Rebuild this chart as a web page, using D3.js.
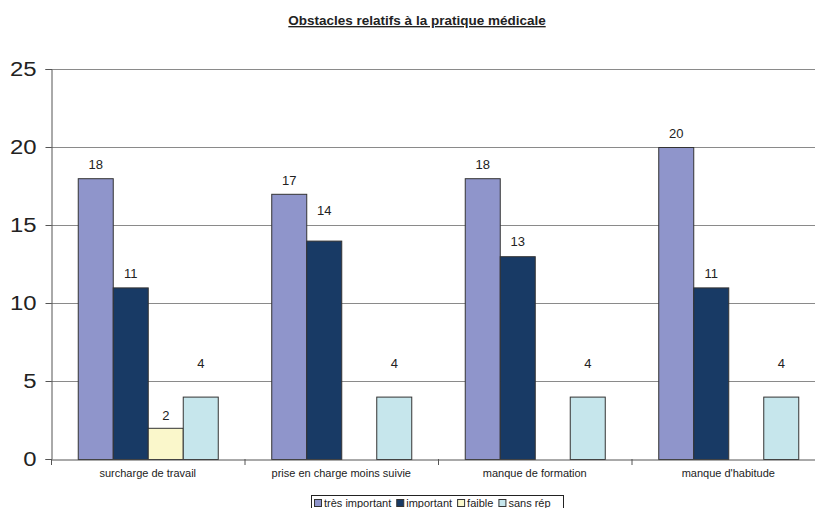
<!DOCTYPE html>
<html>
<head>
<meta charset="utf-8">
<script src="https://cdn.jsdelivr.net/npm/d3@7/dist/d3.min.js"></script>
<style>
  html, body { margin: 0; padding: 0; background: #fff; overflow: hidden; }
  svg { display: block; font-family: "Liberation Sans", Arial, sans-serif; }
</style>
</head>
<body>
<svg id="chart" width="815" height="508"></svg>
<script>
// Data
const categories = ["surcharge de travail", "prise en charge moins suivie", "manque de formation", "manque d'habitude"];
const seriesNames = ["très important", "important", "faible", "sans rép"];
const tresImportant = [18, 17, 18, 20];
const important = [11, 14, 13, 11];
const faible = [2, 0, 0, 0];
const sansRep = [4, 4, 4, 4];
const yTicks = [0, 5, 10, 15, 20, 25];

// Styling
const seriesColors = ["#8f95cb", "#183a65", "#faf7cb", "#c6e6ec"];
// distance (px) between a bar's top and its value label baseline, per series / category
const labelGap = [
  [9, 9, 9, 9],
  [9, 26, 10, 9],
  [8, 8, 8, 8],
  [29, 29, 29, 29]
];

const seriesValues = [tresImportant, important, faible, sansRep];

const svg = d3.select("#chart");
const plotLeft = 51, plotRight = 825, plotTop = 69, plotBottom = 459;

const x = d3.scaleBand().domain(categories).range([plotLeft, plotRight]).paddingInner(0).paddingOuter(0);
const xInner = d3.scaleBand().domain(seriesNames).range([0, x.bandwidth()]).paddingInner(0).paddingOuter(0.764);
const y = d3.scaleLinear().domain([0, 25]).range([plotBottom, plotTop]);

// Title
svg.append("text")
  .attr("x", 417).attr("y", 25)
  .attr("text-anchor", "middle")
  .attr("font-size", 13.5).attr("font-weight", "bold")
  .attr("fill", "#222")
  .attr("text-decoration", "underline")
  .text("Obstacles relatifs à la pratique médicale");

// Gridlines
svg.append("g").selectAll("line").data(yTicks.filter(d => d > 0)).join("line")
  .attr("x1", plotLeft).attr("x2", plotRight)
  .attr("y1", d => y(d) + 0.5).attr("y2", d => y(d) + 0.5)
  .attr("stroke", "#8a8a8a").attr("stroke-width", 1);

// Y axis
const yAxis = d3.axisLeft(y).tickValues(yTicks).tickSize(6).tickPadding(9).tickFormat(d3.format("d"));
const gy = svg.append("g").attr("transform", `translate(${plotLeft + 0.5},0)`).call(yAxis);
gy.select(".domain").attr("stroke", "#555");
gy.selectAll(".tick line").attr("stroke", "#555");
gy.selectAll(".tick text").attr("font-size", 19.5).attr("fill", "#222")
  .attr("font-family", "'Liberation Sans', Arial, sans-serif")
  .attr("textLength", d => String(d).length * 13.3)
  .attr("lengthAdjust", "spacingAndGlyphs");

// Bars
const groups = svg.append("g").selectAll("g").data(categories).join("g")
  .attr("transform", d => `translate(${x(d)},0)`);

groups.each(function(cat, ci) {
  const g = d3.select(this);
  seriesNames.forEach((s, si) => {
    const v = seriesValues[si][ci];
    if (!v) return;
    g.append("rect")
      .attr("x", xInner(s) + 0.5)
      .attr("y", y(v) + 0.5)
      .attr("width", xInner.bandwidth())
      .attr("height", y(0) - y(v))
      .attr("fill", seriesColors[si])
      .attr("stroke", "#333")
      .attr("stroke-width", 1);
    g.append("text")
      .attr("x", xInner(s) + xInner.bandwidth() / 2 + 0.5)
      .attr("y", y(v) - labelGap[si][ci])
      .attr("text-anchor", "middle")
      .attr("font-size", 13).attr("fill", "#222")
      .text(v);
  });
});

// X axis
const xAxis = d3.axisBottom(x).tickSize(0).tickPadding(10);
const gx = svg.append("g").attr("transform", `translate(0,${plotBottom + 0.5})`).call(xAxis);
gx.select(".domain").attr("stroke", "#555");
gx.selectAll(".tick text").attr("font-size", 11).attr("fill", "#222")
  .attr("font-family", "'Liberation Sans', Arial, sans-serif");
// Category boundary ticks
svg.append("g").selectAll("line").data(d3.range(categories.length + 1)).join("line")
  .attr("x1", i => plotLeft + 0.5 + i * x.step()).attr("x2", i => plotLeft + 0.5 + i * x.step())
  .attr("y1", plotBottom).attr("y2", plotBottom + 6)
  .attr("stroke", "#555");

// Legend
const legend = svg.append("g").attr("transform", "translate(311,495)");
legend.append("rect").attr("x", 0.5).attr("y", 0.5).attr("width", 252).attr("height", 20)
  .attr("fill", "#fff").attr("stroke", "#222");
let lx = 3;
seriesNames.forEach((s, i) => {
  legend.append("rect").attr("x", lx + 0.5).attr("y", 4.5).attr("width", 7).attr("height", 7)
    .attr("fill", seriesColors[i]).attr("stroke", "#333");
  const t = legend.append("text").attr("x", lx + 10).attr("y", 12)
    .attr("font-size", 11).attr("fill", "#222").text(s);
  lx += 10 + t.node().getComputedTextLength() + 5;
});
</script>
</body>
</html>
